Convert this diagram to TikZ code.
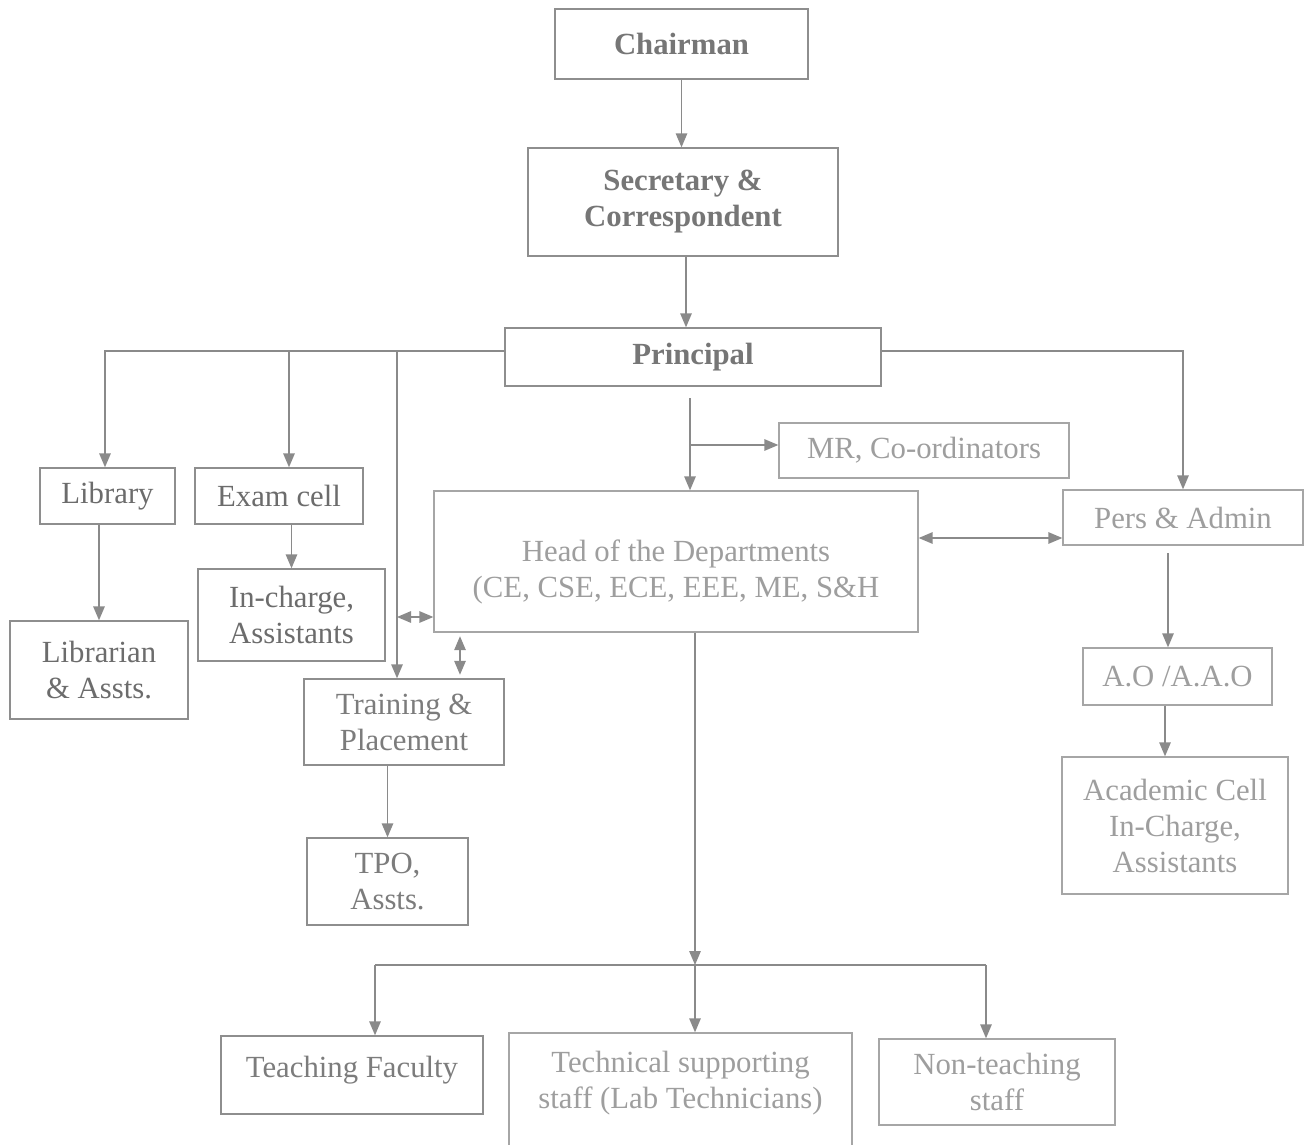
\documentclass[tikz,border=0pt]{standalone}
\usepackage{fontspec}
\setmainfont{Liberation Serif}
\usetikzlibrary{arrows.meta}
\definecolor{linegray}{HTML}{8A8A8A}
\definecolor{boxgray}{HTML}{8E8E8E}
\definecolor{lightbox}{HTML}{A6A6A6}
\definecolor{headtxt}{HTML}{767676}
\definecolor{darktxt}{HTML}{6C6C6C}
\definecolor{midtxt}{HTML}{7C7C7C}
\definecolor{lighttxt}{HTML}{9E9E9E}
\begin{document}
\begin{tikzpicture}[x=0.02cm,y=-0.02cm,line width=0.8pt]
            \tikzstyle{box}=[rectangle,draw=boxgray,fill=white,inner sep=2pt,align=center,text=darktxt,font=\fontsize{17.5}{20.5}\selectfont]
            \tikzstyle{head}=[box,text=headtxt,font=\fontsize{17.5}{20.5}\selectfont\bfseries]
            \tikzstyle{pale}=[box,draw=lightbox,text=lighttxt]
            \tikzstyle{txt}=[inner sep=0pt,align=center,font=\fontsize{17.5}{20.5}\selectfont]
            \tikzstyle{arr}=[draw=linegray,-{Triangle[length=0.28cm,width=0.23cm]}]
            \tikzstyle{darr}=[draw=linegray,{Triangle[length=0.28cm,width=0.23cm]}-{Triangle[length=0.28cm,width=0.23cm]}]

            \useasboundingbox (0,0) rectangle (1304,1145);

                % top of the chart
                \node[head,minimum width=5.06cm,minimum height=1.40cm] (chair) at (681.5,44) {Chairman};
                \node[head,minimum width=6.20cm,minimum height=2.16cm] (secr) at (683,202) {Secretary \&\\Correspondent};
                \node[head,minimum width=7.52cm,minimum height=1.16cm] (princ) at (693,357) {Principal};

                % left branch
                \node[box,minimum width=2.70cm,minimum height=1.12cm] (lib) at (107.5,496) {Library};
                \node[box,minimum width=3.36cm,minimum height=1.12cm] (exam) at (279,496) {Exam cell};
                \node[box,minimum width=3.56cm,minimum height=1.96cm] (libn) at (99,670) {Librarian\\\& Assts.};
                \node[box,minimum width=3.74cm,minimum height=1.84cm] (inch) at (291.5,615) {In-charge,\\Assistants};
                \node[box,text=midtxt,minimum width=4.00cm,minimum height=1.72cm] (train) at (404,722) {Training \&\\Placement};
                \node[box,text=midtxt,minimum width=3.22cm,minimum height=1.74cm] (tpo) at (387.5,881.5) {TPO,\\Assts.};

                % middle and right
                \node[pale,minimum width=5.80cm,minimum height=1.10cm] (mr) at (924,450.5) {MR, Co-ordinators};
                \node[pale,minimum width=9.68cm,minimum height=2.82cm] (hod) at (676,561.5) {};
                \node[txt,text=lighttxt] (hodtxt) at ([yshift=-0.2cm]hod.center) {Head of the Departments\\(CE, CSE, ECE, EEE, ME, S\&H};
                \node[pale,minimum width=4.80cm,minimum height=1.10cm] (pers) at (1183,517.5) {Pers \& Admin};
                \node[pale,minimum width=3.78cm,minimum height=1.14cm] (ao) at (1177.5,676.5) {A.O /A.A.O};
                \node[pale,minimum width=4.52cm,minimum height=2.74cm] (acad) at (1175,825.5) {Academic Cell\\In-Charge,\\Assistants};

                % staff row
                \node[box,minimum width=5.24cm,minimum height=1.56cm] (teach) at (352,1075) {};
                \node[txt,text=midtxt] (teachtxt) at ([yshift=0.1cm]teach.center) {Teaching Faculty};
                \node[pale,minimum width=6.86cm,minimum height=2.32cm] (tech) at (680.5,1091) {};
                \node[txt,text=lighttxt] (techtxt) at ([yshift=0.16cm]tech.center) {Technical supporting\\staff (Lab Technicians)};
                \node[pale,minimum width=4.72cm,minimum height=1.72cm] (nont) at (997,1082) {Non-teaching\\staff};

                \coordinate (pb) at (690,398);
                \coordinate (pm) at (690,445);
                \coordinate (pa) at (1168,553);
                \coordinate (tl) at (397,617);
                \coordinate (dv) at (460,0);
                \coordinate (bl) at (375,965);
                \coordinate (bus) at (695,965);
                \coordinate (br) at (986,965);

                \draw[arr] (chair) -- (chair |- secr.north);
                \draw[arr] ([xshift=0.06cm]secr.south) -- ([xshift=0.06cm]secr.south |- princ.north);

                \draw[arr] ([yshift=0.12cm]princ.west) -| ([xshift=-0.05cm]lib.north);
                \draw[arr] ([yshift=0.12cm]princ.west) -| ([xshift=0.2cm]exam.north);
                \draw[arr] ([yshift=0.12cm]princ.west) -| ([xshift=-0.14cm]train.north);
                \draw[arr] ([yshift=0.12cm]princ.east) -| (pers);

                \draw[arr] (pb) -- (pb |- hod.north);
                \draw[arr] (pm) -- (mr.west |- pm);

                \draw[arr] (lib.south -| libn.north) -- (libn.north);
                \draw[arr] (exam.south -| inch.north) -- (inch.north);
                \draw[arr] (train.south -| tpo.north) -- (tpo.north);
                \draw[arr] (pa) -- (pa |- ao.north);
                \draw[arr] ([xshift=-0.25cm]ao.south) -- ([xshift=-0.25cm]ao.south |- acad.north);

                \draw[darr] (hod.east |- 0,538) -- (pers.west |- 0,538);
                \draw[darr] (tl) -- (hod.west |- tl);
                \draw[darr,shorten <=2pt,shorten >=2pt] (hod.south -| dv) -- (train.north -| dv);

                \draw[arr] (hod.south -| bus) -- (bus);
                \draw[draw=linegray] (bl) -- (br);
                \foreach \pt/\dst in {bl/teach, bus/tech, br/nont}
                    \draw[arr] (\pt) -- (\pt |- \dst.north);
        \end{tikzpicture}
\end{document}
